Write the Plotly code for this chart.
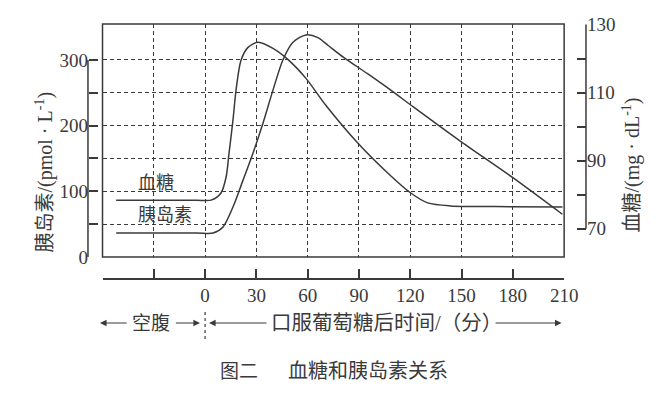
import plotly.graph_objects as go

# ---- data ----
time_ticks = [-60, -30, 0, 30, 60, 90, 120, 150, 180, 210]
time_labels = ["", "", "0", "30", "60", "90", "120", "150", "180", "210"]
insulin_ticks = [0, 50, 100, 150, 200, 250, 300]
insulin_labels = ["0", "", "100", "", "200", "", "300"]
glucose_ticks = [70, 80, 90, 100, 110, 120, 130]
glucose_labels = ["70", "", "90", "", "110", "", "130"]

glucose_t = [-52, -5, 3.5, 9.3, 12.3, 14.0, 16.3, 18.1, 21.0, 25.1, 31.0, 39.7, 49.0,
             59.0, 70.6, 89.3, 106.8, 120.3, 130.2, 143.6, 170, 209]
glucose_v = [78.4, 78.4, 78.4, 80.5, 85.2, 92.2, 101.9, 110.7, 119.5, 123.3, 124.8, 123.0,
             119.5, 114.2, 106.3, 95.2, 86.4, 80.5, 77.6, 76.7, 76.5, 76.4]

insulin_t = [-52, -5, 4.7, 10.5, 16.3, 22.2, 28.0, 33.9, 39.7, 45.5, 51.4, 59.0, 66,
             72, 81, 95, 108.6, 122, 149.4, 180.4, 209]
insulin_v = [36.5, 36.5, 36.5, 45.7, 76, 117, 158, 204, 254, 300, 327, 338, 334,
             322, 304, 279, 254, 228, 176, 120, 65]

INK = "#3a3a3a"
SERIF = "Liberation Serif, Noto Sans CJK SC, serif"

XD = [0.153, 0.842]
YD = [0.356, 0.940]
YPOS_L = 0.1313
YPOS_R = 0.8746
XPOS = 0.301
XR = [-60, 210]
YR = [0, 354.8]
Y2R = [61.7, 130.2]


def py(px):
    """window pixel row -> paper y"""
    return 1 - px / 399


fig = go.Figure()
fig.add_trace(go.Scatter(x=glucose_t, y=glucose_v, xaxis="x", yaxis="y2", mode="lines",
                         line=dict(color=INK, width=1.5, shape="spline", smoothing=0.8),
                         name="血糖", hoverinfo="skip"))
fig.add_trace(go.Scatter(x=insulin_t, y=insulin_v, xaxis="x", yaxis="y", mode="lines",
                         line=dict(color=INK, width=1.5, shape="spline", smoothing=0.8),
                         name="胰岛素", hoverinfo="skip"))
# empty trace so that the detached tick axes get drawn
fig.add_trace(go.Scatter(x=[], y=[], xaxis="x2", yaxis="y3", mode="lines",
                         hoverinfo="skip", showlegend=False))

grid = dict(showgrid=True, gridcolor=INK, griddash="4px,3px", gridwidth=1.2)
tickstyle = dict(ticks="inside", ticklen=9, tickwidth=1.5, tickcolor=INK,
                 tickfont=dict(size=19, family=SERIF, color=INK), automargin=False,
                 zeroline=False)

fig.update_layout(
    width=670, height=399,
    margin=dict(l=0, r=0, t=0, b=0, autoexpand=False),
    paper_bgcolor="white", plot_bgcolor="white",
    showlegend=False,
    font=dict(family=SERIF, color=INK, size=19),
    xaxis=dict(domain=XD, range=XR, anchor="y", tickvals=time_ticks,
               showticklabels=False, ticks="", showline=False, zeroline=False,
               automargin=False, **grid),
    yaxis=dict(domain=YD, range=YR, anchor="x", tickvals=insulin_ticks,
               showticklabels=False, ticks="", showline=False, zeroline=False,
               automargin=False, **grid),
    xaxis2=dict(overlaying="x", anchor="free", position=XPOS, side="bottom", range=XR,
                tickvals=time_ticks, ticktext=time_labels, showgrid=False,
                showline=True, linecolor=INK, linewidth=1.5, **tickstyle),
    yaxis3=dict(overlaying="y", anchor="free", position=YPOS_L, side="left", range=YR,
                tickvals=insulin_ticks, ticktext=insulin_labels, showgrid=False,
                showline=False, **tickstyle),
    yaxis2=dict(overlaying="y", side="right", anchor="free", position=YPOS_R,
                range=Y2R, tickvals=glucose_ticks, ticktext=glucose_labels,
                showgrid=False, showline=False, **tickstyle),
)

shapes = [
    dict(type="rect", xref="x domain", yref="y domain", x0=0, x1=1, y0=0, y1=1,
         line=dict(color=INK, width=1.5)),
    dict(type="line", xref="paper", yref="y", x0=YPOS_L, x1=YPOS_L,
         y0=insulin_ticks[0], y1=insulin_ticks[-1], line=dict(color=INK, width=1.5)),
    dict(type="line", xref="paper", yref="y2", x0=YPOS_R, x1=YPOS_R,
         y0=glucose_ticks[0], y1=glucose_ticks[-1], line=dict(color=INK, width=1.5)),
]
for xm in [-62.5, 0, 217.5]:
    shapes.append(dict(type="line", xref="x", yref="paper", x0=xm, x1=xm,
                       y0=py(339), y1=py(311), line=dict(color=INK, width=1.2, dash="3px,3px")))
fig.update_layout(shapes=shapes)

ann = []
ann.append(dict(text="胰岛素/(pmol · L<sup>-1</sup>)", xref="paper", yref="paper",
                x=29 / 670, y=py(172), textangle=-90, showarrow=False,
                font=dict(size=20, family=SERIF, color=INK)))
ann.append(dict(text="血糖/(mg · dL<sup>-1</sup>)", xref="paper", yref="paper",
                x=646 / 670, y=py(165), textangle=-90, showarrow=False,
                font=dict(size=20, family=SERIF, color=INK)))
ann.append(dict(text="血糖", x=-28.6, y=113, xref="x", yref="y", showarrow=False,
                font=dict(size=18, family=SERIF, color=INK)))
ann.append(dict(text="胰岛素", x=-23.4, y=64, xref="x", yref="y", showarrow=False,
                font=dict(size=18, family=SERIF, color=INK)))
TEXT_ROW = py(323 + 13)
ann.append(dict(text="空腹", x=-31.5, y=TEXT_ROW, xref="x", yref="paper", showarrow=False,
                font=dict(size=19, family=SERIF, color=INK)))
ann.append(dict(text="口服葡萄糖后时间/（分）", x=37.5, y=TEXT_ROW, xref="x", yref="paper",
                xanchor="left", showarrow=False,
                font=dict(size=20.5, family=SERIF, color=INK)))
ARROW_ROW = py(323)
for tip, tail in [(-61.5, -45), (-3, -18), (2.3, 36.8), (208.5, 169)]:
    ann.append(dict(text="", x=tip, y=ARROW_ROW, xref="x", yref="paper",
                    ax=tail, ay=0, axref="x", ayref="pixel",
                    showarrow=True, arrowhead=2, arrowsize=1.1, arrowwidth=1.2,
                    arrowcolor=INK))
CAP_ROW = py(370 + 14)
ann.append(dict(text="图二", x=239 / 670, y=CAP_ROW, xref="paper", yref="paper",
                showarrow=False, font=dict(size=19, family=SERIF, color=INK)))
ann.append(dict(text="血糖和胰岛素关系", x=368 / 670, y=CAP_ROW, xref="paper",
                yref="paper", showarrow=False,
                font=dict(size=20, family=SERIF, color=INK)))
fig.update_layout(annotations=ann)

fig.write_html("out.html", config={"displayModeBar": False},
               post_script="document.body.style.margin='0';"
                           "document.body.style.overflow='hidden';")
